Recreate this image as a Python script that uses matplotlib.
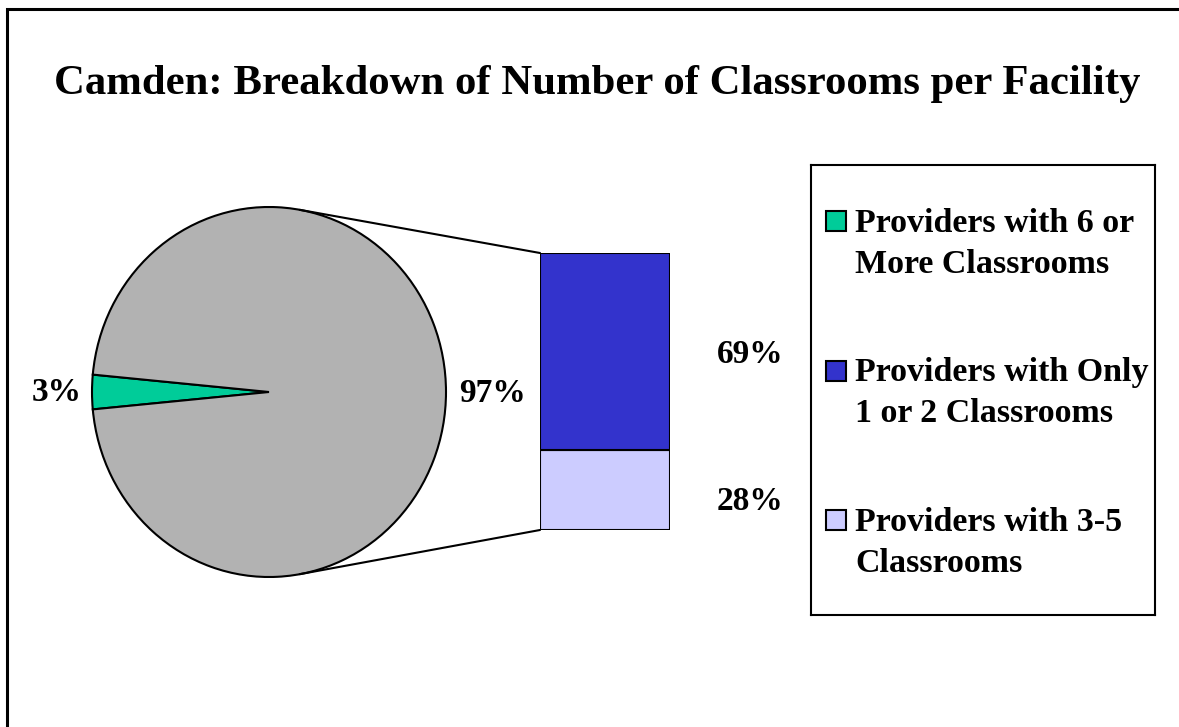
import numpy as np
import matplotlib
matplotlib.use("Agg")
import matplotlib.pyplot as plt
from matplotlib.patches import Rectangle, ConnectionPatch

plt.rcParams['font.family'] = ['Liberation Serif', 'DejaVu Serif']
plt.rcParams['font.weight'] = 'bold'

# datos del grafico
title = "Camden: Breakdown of Number of Classrooms per Facility"
pie_values = [3, 97]                      # 6+ aulas, resto
pie_colors = ['#00CC99', '#B2B2B2']
bar_values = [28, 69]                     # 3-5 aulas abajo, 1-2 aulas arriba
bar_colors = ['#CCCCFF', '#3333CC']
legend_labels = ["Providers with 6 or\nMore Classrooms",
                 "Providers with Only\n1 or 2 Classrooms",
                 "Providers with 3-5\nClassrooms"]
legend_colors = ['#00CC99', '#3333CC', '#CCCCFF']

W, H = 1179, 727
fig = plt.figure(figsize=(W / 100, H / 100), dpi=100)
fig.patch.set_facecolor('white')

def fig_box(x0, y0, x1, y1):
    # caja en pixeles (origen arriba a la izquierda) -> coordenadas de figura
    return [x0 / W, 1 - y1 / H, (x1 - x0) / W, (y1 - y0) / H]

# marco alrededor de todo
fig.add_artist(Rectangle((7 / W, -0.2), 2, 1.2 - 9 / H, transform=fig.transFigure,
                         fill=False, edgecolor='black', lw=2.2))

fig.text(597 / W, 1 - 94 / H, title, ha='center', va='baseline', fontsize=30.8,
         fontweight='bold')

# pastel
ax_pie = fig.add_axes(fig_box(92, 207, 446, 577))
half = pie_values[0] / sum(pie_values) * 360 / 2
wedges, _ = ax_pie.pie(pie_values, colors=pie_colors, startangle=180 - half,
                       wedgeprops=dict(edgecolor='black', linewidth=1.5))
ax_pie.set_aspect('auto')
ax_pie.set_xlim(-1, 1)
ax_pie.set_ylim(-1, 1)
ax_pie.axis('off')
ax_pie.text(-1.20, 0, f"{pie_values[0]}%", ha='center', va='center', fontsize=24)
ax_pie.text(1.262, -0.01, f"{pie_values[1]}%", ha='center', va='center', fontsize=24)

# barra apilada
ax_bar = fig.add_axes(fig_box(540, 253, 670, 530))
bottom = 0
offsets = [-4.0, -1.0]
for val, col, off in zip(bar_values, bar_colors, offsets):
    ax_bar.bar(0, val, width=1, bottom=bottom, color=col, edgecolor='black', linewidth=1.5)
    ax_bar.text(1.115, bottom + val / 2 + off, f"{val}%", ha='center', va='center',
                fontsize=24, clip_on=False)
    bottom += val
ax_bar.set_xlim(-0.5, 0.5)
ax_bar.set_ylim(0, sum(bar_values))
ax_bar.axis('off')

# lineas de union pastel -> barra
ang = np.deg2rad(80)
for y_pie, y_bar in [(np.sin(ang), sum(bar_values)), (-np.sin(ang), 0)]:
    con = ConnectionPatch(xyA=(np.cos(ang), y_pie), coordsA=ax_pie.transData,
                          xyB=(-0.5, y_bar), coordsB=ax_bar.transData,
                          color='black', lw=1.5)
    fig.add_artist(con)

# leyenda
ax_leg = fig.add_axes(fig_box(811, 165, 1155, 615))
ax_leg.set_xlim(0, 344)
ax_leg.set_ylim(450, 0)
ax_leg.set_xticks([])
ax_leg.set_yticks([])
for sp in ax_leg.spines.values():
    sp.set_linewidth(1.5)
for i, (lab, col) in enumerate(zip(legend_labels, legend_colors)):
    yc = 56 + i * 149.5
    ax_leg.add_patch(Rectangle((15, yc - 10), 20, 20, facecolor=col,
                               edgecolor='black', lw=1.5))
    for j, line in enumerate(lab.split("\n")):
        ax_leg.text(44, yc + 11 + j * 41, line, ha='left', va='baseline',
                    fontsize=24.5, fontweight='bold')

fig.savefig("out.png", dpi=100)
